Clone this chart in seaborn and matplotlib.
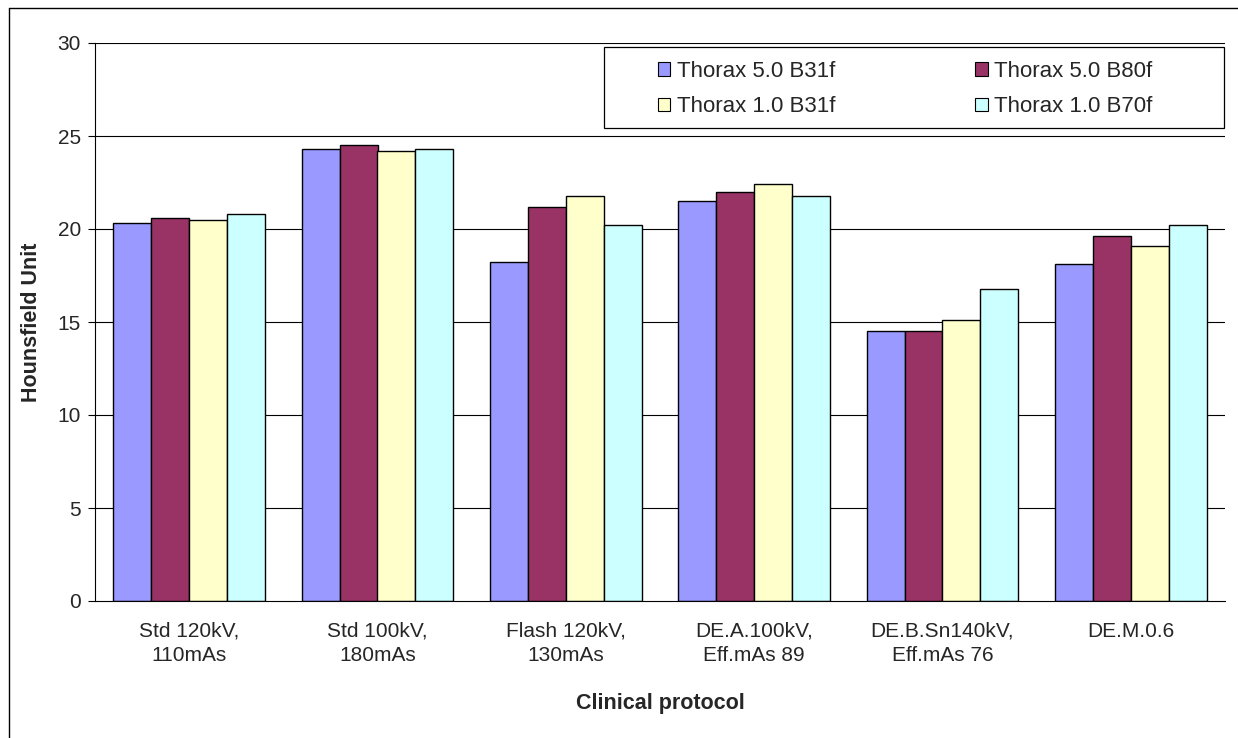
import matplotlib
matplotlib.use("Agg")
import matplotlib.pyplot as plt
import seaborn as sns
import pandas as pd
import numpy as np
from matplotlib.patches import Rectangle, Patch
from matplotlib.lines import Line2D

protocols = ["Std 120kV,\n110mAs", "Std 100kV,\n180mAs", "Flash 120kV,\n130mAs",
             "DE.A.100kV,\nEff.mAs 89", "DE.B.Sn140kV,\nEff.mAs 76", "DE.M.0.6"]
series_names = ["Thorax 5.0 B31f", "Thorax 5.0 B80f", "Thorax 1.0 B31f", "Thorax 1.0 B70f"]
thorax50_b31f = [20.3, 24.3, 18.2, 21.5, 14.5, 18.1]
thorax50_b80f = [20.6, 24.5, 21.2, 22.0, 14.5, 19.6]
thorax10_b31f = [20.5, 24.2, 21.8, 22.4, 15.1, 19.1]
thorax10_b70f = [20.8, 24.3, 20.2, 21.8, 16.8, 20.2]
colors = ["#9999FF", "#993366", "#FFFFCC", "#CCFFFF"]
y_ticks = [0, 5, 10, 15, 20, 25, 30]

sns.set_theme(style="white")
plt.rcParams["font.family"] = ["Liberation Sans", "DejaVu Sans"]

W, H = 1238, 738
fig = plt.figure(figsize=(W / 100, H / 100), dpi=100)
fig.patch.set_facecolor("white")

x0, x1, y0, y1 = 95, 1225, 43, 601
ax = fig.add_axes([x0 / W, 1 - y1 / H, (x1 - x0) / W, (y1 - y0) / H])

values = [thorax50_b31f, thorax50_b80f, thorax10_b31f, thorax10_b70f]
rows = []
for s, vals in zip(series_names, values):
    for p, v in zip(protocols, vals):
        rows.append({"protocol": p, "value": v, "series": s})
df = pd.DataFrame(rows)

ax.set_axisbelow(True)
for yt in y_ticks[1:]:
    ax.axhline(yt, color="black", lw=0.8, zorder=0)

sns.barplot(data=df, x="protocol", y="value", hue="series", order=protocols,
            hue_order=series_names, palette=dict(zip(series_names, colors)),
            width=0.807, gap=0, edgecolor="black", linewidth=1.0, saturation=1,
            legend=False, ax=ax, zorder=2)

ax.set_xlim(-0.5, len(protocols) - 0.5)
ax.set_ylim(0, 30)
ax.set_yticks(y_ticks)
ax.set_yticklabels([str(t) for t in y_ticks], fontsize=15)
ax.set_xticks(range(len(protocols)))
ax.set_xticklabels(protocols, fontsize=15, linespacing=1.35)
ax.set_xticks(np.arange(-0.5, len(protocols), 1), minor=True)
ax.tick_params(axis="x", which="major", length=0, pad=15)
ax.tick_params(axis="x", which="minor", length=6, width=0.8, direction="out", color="black")
ax.tick_params(axis="y", which="major", length=5, width=0.8, direction="out", color="black", pad=5,
               left=True)
ax.set_xlabel("")
ax.set_ylabel("")
for sp in ["top", "right"]:
    ax.spines[sp].set_visible(False)
for sp in ["left", "bottom"]:
    ax.spines[sp].set_color("black")
    ax.spines[sp].set_linewidth(0.8)
ax.patch.set_alpha(0)

fig.text(660 / W, 1 - 703 / H, "Clinical protocol", ha="center", va="center",
         fontsize=15.5, fontweight="bold")
fig.text(32 / W, 1 - 322 / H, "Hounsfield Unit", ha="center", va="center",
         rotation=90, fontsize=15.5, fontweight="bold")

# legend frame
fig.add_artist(Rectangle((604 / W, 1 - 128 / H), 620 / W, 81 / H, transform=fig.transFigure,
                         facecolor="white", edgecolor="black", lw=0.9, zorder=5))
handles = [Patch(facecolor=c, edgecolor="black", lw=0.8) for c in colors]
order = [0, 2, 1, 3]
leg = fig.legend([handles[i] for i in order], [series_names[i] for i in order],
                 ncol=2, loc="upper left", bbox_to_anchor=(658 / W, 1 - 61 / H),
                 frameon=False, fontsize=16, handlelength=0.55, handleheight=0.55,
                 handletextpad=0.3, columnspacing=6.3, labelspacing=0.65,
                 borderpad=0, borderaxespad=0)
leg.set_zorder(6)

# outer border (left and top)
fig.add_artist(Line2D([8.5 / W, 8.5 / W], [0, 1 - 7.5 / H], transform=fig.transFigure,
                      color="black", lw=1.0))
fig.add_artist(Line2D([8.5 / W, 1], [1 - 7.5 / H, 1 - 7.5 / H], transform=fig.transFigure,
                      color="black", lw=1.0))

fig.savefig("out.png", dpi=100, facecolor="white")
